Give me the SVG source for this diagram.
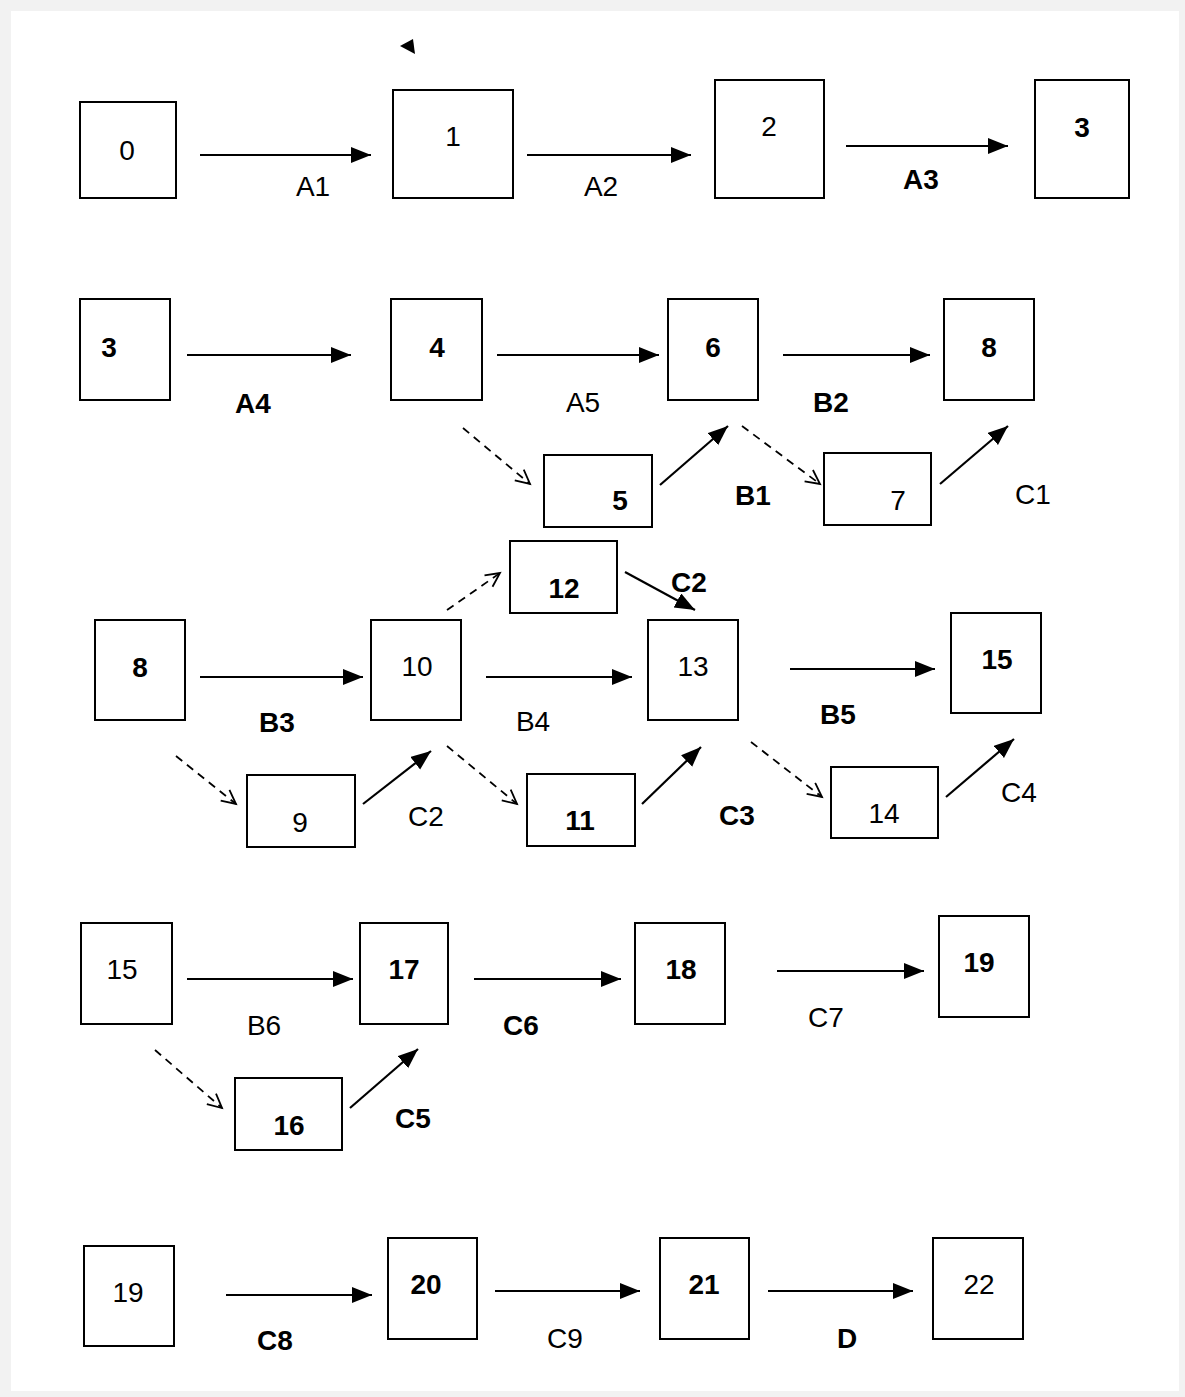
<svg xmlns="http://www.w3.org/2000/svg" width="1185" height="1397" viewBox="0 0 1185 1397">
<defs>
<style>
.n rect{fill:#fff;stroke:#000;stroke-width:2}
text{font-family:"Liberation Sans",Arial,sans-serif;font-size:28px;fill:#000;text-anchor:middle}
.b{font-weight:bold}
.s{stroke:#000;stroke-width:2.2;fill:none}
.d{stroke:#000;stroke-width:1.8;fill:none;stroke-dasharray:8 6}
</style>
<marker id="ah" markerUnits="userSpaceOnUse" markerWidth="22" markerHeight="18" refX="20" refY="8" orient="auto"><path d="M0,0 L20,8 L0,16 Z" fill="#000"/></marker>
<marker id="oh" markerUnits="userSpaceOnUse" markerWidth="20" markerHeight="18" refX="16" refY="8" orient="auto"><path d="M2,1 L16,8 L2,15" fill="none" stroke="#000" stroke-width="1.8"/></marker>
</defs>
<rect x="0" y="0" width="1185" height="1397" fill="#f2f2f2"/>
<rect x="11" y="11" width="1168" height="1380" fill="#fff"/>

<g id="connectors">
<polygon points="400,46 413,39 415,54" fill="#000"/>
<line class="s" x1="200" y1="155" x2="371" y2="155" marker-end="url(#ah)"/>
<line class="s" x1="527" y1="155" x2="691" y2="155" marker-end="url(#ah)"/>
<line class="s" x1="846" y1="146" x2="1008" y2="146" marker-end="url(#ah)"/>
<line class="s" x1="187" y1="355" x2="351" y2="355" marker-end="url(#ah)"/>
<line class="s" x1="497" y1="355" x2="659" y2="355" marker-end="url(#ah)"/>
<line class="s" x1="783" y1="355" x2="930" y2="355" marker-end="url(#ah)"/>
<line class="d" x1="463" y1="428" x2="530" y2="484" marker-end="url(#oh)"/>
<line class="s" x1="660" y1="485" x2="728" y2="426" marker-end="url(#ah)"/>
<line class="d" x1="742" y1="426" x2="820" y2="484" marker-end="url(#oh)"/>
<line class="s" x1="940" y1="484" x2="1008" y2="426" marker-end="url(#ah)"/>
<line class="d" x1="447" y1="610" x2="500" y2="573" marker-end="url(#oh)"/>
<line class="s" x1="625" y1="572" x2="695" y2="610" marker-end="url(#ah)"/>
<line class="s" x1="200" y1="677" x2="363" y2="677" marker-end="url(#ah)"/>
<line class="s" x1="486" y1="677" x2="632" y2="677" marker-end="url(#ah)"/>
<line class="s" x1="790" y1="669" x2="935" y2="669" marker-end="url(#ah)"/>
<line class="d" x1="176" y1="756" x2="236" y2="804" marker-end="url(#oh)"/>
<line class="s" x1="363" y1="804" x2="431" y2="751" marker-end="url(#ah)"/>
<line class="d" x1="447" y1="746" x2="517" y2="804" marker-end="url(#oh)"/>
<line class="s" x1="642" y1="804" x2="701" y2="747" marker-end="url(#ah)"/>
<line class="d" x1="751" y1="742" x2="822" y2="797" marker-end="url(#oh)"/>
<line class="s" x1="946" y1="797" x2="1014" y2="739" marker-end="url(#ah)"/>
<line class="s" x1="187" y1="979" x2="353" y2="979" marker-end="url(#ah)"/>
<line class="s" x1="474" y1="979" x2="621" y2="979" marker-end="url(#ah)"/>
<line class="s" x1="777" y1="971" x2="924" y2="971" marker-end="url(#ah)"/>
<line class="d" x1="155" y1="1050" x2="222" y2="1108" marker-end="url(#oh)"/>
<line class="s" x1="350" y1="1108" x2="418" y2="1049" marker-end="url(#ah)"/>
<line class="s" x1="226" y1="1295" x2="372" y2="1295" marker-end="url(#ah)"/>
<line class="s" x1="495" y1="1291" x2="640" y2="1291" marker-end="url(#ah)"/>
<line class="s" x1="768" y1="1291" x2="913" y2="1291" marker-end="url(#ah)"/>
</g>

<g id="labels">
<text x="313" y="196">A1</text>
<text x="601" y="196">A2</text>
<text class="b" x="921" y="189">A3</text>
<text class="b" x="253" y="413">A4</text>
<text x="583" y="412">A5</text>
<text class="b" x="831" y="412">B2</text>
<text class="b" x="753" y="505">B1</text>
<text x="1033" y="504">C1</text>
<text class="b" x="689" y="592">C2</text>
<text class="b" x="277" y="732">B3</text>
<text x="533" y="731">B4</text>
<text class="b" x="838" y="724">B5</text>
<text x="426" y="826">C2</text>
<text class="b" x="737" y="825">C3</text>
<text x="1019" y="802">C4</text>
<text x="264" y="1035">B6</text>
<text class="b" x="521" y="1035">C6</text>
<text x="826" y="1027">C7</text>
<text class="b" x="413" y="1128">C5</text>
<text class="b" x="275" y="1350">C8</text>
<text x="565" y="1348">C9</text>
<text class="b" x="847" y="1348">D</text>
</g>

<g id="n0" class="n"><rect x="80" y="102" width="96" height="96"/><text x="127" y="160">0</text></g>
<g id="n1" class="n"><rect x="393" y="90" width="120" height="108"/><text x="453" y="146">1</text></g>
<g id="n2" class="n"><rect x="715" y="80" width="109" height="118"/><text x="769" y="136">2</text></g>
<g id="n3a" class="n"><rect x="1035" y="80" width="94" height="118"/><text class="b" x="1082" y="137">3</text></g>

<g id="n3b" class="n"><rect x="80" y="299" width="90" height="101"/><text class="b" x="109" y="357">3</text></g>
<g id="n4" class="n"><rect x="391" y="299" width="91" height="101"/><text class="b" x="437" y="357">4</text></g>
<g id="n6" class="n"><rect x="668" y="299" width="90" height="101"/><text class="b" x="713" y="357">6</text></g>
<g id="n8a" class="n"><rect x="944" y="299" width="90" height="101"/><text class="b" x="989" y="357">8</text></g>
<g id="n5" class="n"><rect x="544" y="455" width="108" height="72"/><text class="b" x="620" y="510">5</text></g>
<g id="n7" class="n"><rect x="824" y="453" width="107" height="72"/><text x="898" y="510">7</text></g>

<g id="n12" class="n"><rect x="510" y="541" width="107" height="72"/><text class="b" x="564" y="598">12</text></g>
<g id="n8b" class="n"><rect x="95" y="620" width="90" height="100"/><text class="b" x="140" y="677">8</text></g>
<g id="n10" class="n"><rect x="371" y="620" width="90" height="100"/><text x="417" y="676">10</text></g>
<g id="n13" class="n"><rect x="648" y="620" width="90" height="100"/><text x="693" y="676">13</text></g>
<g id="n15a" class="n"><rect x="951" y="613" width="90" height="100"/><text class="b" x="997" y="669">15</text></g>
<g id="n9" class="n"><rect x="247" y="775" width="108" height="72"/><text x="300" y="832">9</text></g>
<g id="n11" class="n"><rect x="527" y="774" width="108" height="72"/><text class="b" x="580" y="830">11</text></g>
<g id="n14" class="n"><rect x="831" y="767" width="107" height="71"/><text x="884" y="823">14</text></g>

<g id="n15b" class="n"><rect x="81" y="923" width="91" height="101"/><text x="122" y="979">15</text></g>
<g id="n17" class="n"><rect x="360" y="923" width="88" height="101"/><text class="b" x="404" y="979">17</text></g>
<g id="n18" class="n"><rect x="635" y="923" width="90" height="101"/><text class="b" x="681" y="979">18</text></g>
<g id="n19a" class="n"><rect x="939" y="916" width="90" height="101"/><text class="b" x="979" y="972">19</text></g>
<g id="n16" class="n"><rect x="235" y="1078" width="107" height="72"/><text class="b" x="289" y="1135">16</text></g>

<g id="n19b" class="n"><rect x="84" y="1246" width="90" height="100"/><text x="128" y="1302">19</text></g>
<g id="n20" class="n"><rect x="388" y="1238" width="89" height="101"/><text class="b" x="426" y="1294">20</text></g>
<g id="n21" class="n"><rect x="660" y="1238" width="89" height="101"/><text class="b" x="704" y="1294">21</text></g>
<g id="n22" class="n"><rect x="933" y="1238" width="90" height="101"/><text x="979" y="1294">22</text></g>
</svg>
